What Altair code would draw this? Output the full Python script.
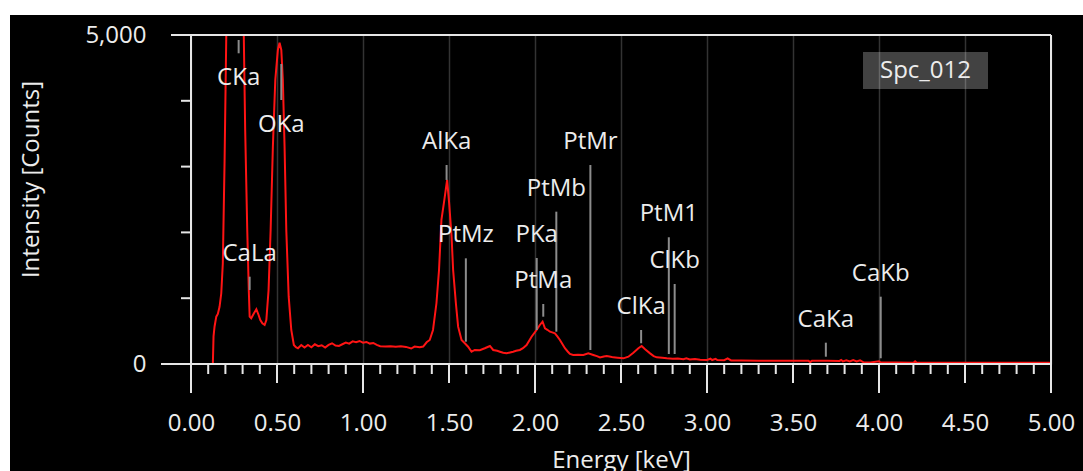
import altair as alt
import pandas as pd

# ---------------- data ----------------
energy = [
    0.00, 0.127, 0.131, 0.137, 0.147, 0.156, 0.166, 0.176, 0.185, 0.195, 0.205,
    0.220, 0.240, 0.260, 0.280, 0.295, 0.307,
    0.315, 0.327, 0.336, 0.341, 0.350, 0.366, 0.380, 0.393, 0.403, 0.415, 0.428, 0.438,
    0.451, 0.463, 0.476, 0.490, 0.505, 0.515, 0.525, 0.534, 0.544, 0.554, 0.568, 0.583,
    0.598, 0.610, 0.622, 0.641,
    0.66, 0.68, 0.70, 0.72, 0.74, 0.76, 0.78, 0.80, 0.82, 0.84, 0.86, 0.88, 0.90, 0.92,
    0.94, 0.96, 0.98, 1.00, 1.02, 1.04, 1.06, 1.08, 1.10, 1.13, 1.16, 1.19, 1.22, 1.25,
    1.28, 1.30, 1.33, 1.35, 1.37,
    1.388, 1.407, 1.427, 1.442, 1.456, 1.470, 1.481, 1.489, 1.501, 1.515, 1.524, 1.540,
    1.553, 1.573, 1.592, 1.611, 1.631, 1.650, 1.679, 1.708, 1.738, 1.757, 1.780, 1.796,
    1.815, 1.835, 1.855, 1.873, 1.890, 1.912, 1.930, 1.951, 1.980,
    2.009, 2.028, 2.044, 2.058, 2.072, 2.087, 2.100, 2.116, 2.130, 2.145, 2.160, 2.174,
    2.190, 2.203, 2.222, 2.250, 2.281, 2.310, 2.339, 2.360, 2.378, 2.400, 2.417, 2.440,
    2.455, 2.480, 2.514,
    2.543, 2.572, 2.601, 2.620, 2.640, 2.669, 2.690, 2.708, 2.740, 2.766, 2.800, 2.830,
    2.863, 2.880, 2.900, 2.930, 2.960, 3.000, 3.020, 3.030, 3.050, 3.060, 3.100, 3.120,
    3.140, 3.200, 3.300, 3.400, 3.500, 3.590, 3.600, 3.610, 3.700, 3.770, 3.780, 3.790,
    3.810, 3.830, 3.850, 3.870, 3.890, 3.910, 3.950, 4.000, 4.010, 4.100, 4.200, 4.210,
    4.220, 4.400, 4.600, 4.800, 4.990, 5.000,
]
counts = [
    0, 0, 420, 570, 720, 760, 870, 1075, 1530, 3050, 4975,
    7800, 9400, 9800, 8900, 6800, 4975,
    3556, 2037, 1125, 719, 695, 771, 831, 745, 669, 619, 593, 669,
    1125, 2037, 3303, 4316, 4772, 4883, 4772, 4316, 3303, 2037, 1023, 517,
    289, 255, 239, 289,
    250, 290, 255, 300, 270, 285, 250, 290, 315, 280, 275, 300, 325, 310,
    345, 330, 350, 325, 335, 310, 320, 290, 270, 265, 270, 262, 268, 260,
    235, 265, 255, 265, 330,
    365, 517, 923, 1429, 2189, 2442, 2645, 2797, 2442, 1935, 1429, 923,
    567, 365, 315, 263, 187, 213, 210, 239, 274, 213, 200, 187,
    170, 162, 175, 187, 200, 213, 240, 289, 415,
    517, 593, 643, 542, 520, 491, 480, 466, 420, 365, 300, 239,
    190, 152, 137, 140, 137, 162, 137, 120, 101, 115, 122, 110,
    101, 95, 86,
    111, 172, 239, 274, 223, 162, 120, 101, 95, 86, 80, 82,
    71, 85, 70, 75, 65, 61, 80, 60, 78, 60, 58, 85,
    55, 52, 50, 50, 48, 48, 30, 48, 48, 46, 60, 40,
    58, 40, 60, 38, 55, 25, 22, 40, 22, 22, 20, 40,
    20, 18, 18, 18, 18, 0,
]
assert len(energy) == len(counts)

peak_names = ["CKa", "OKa", "CaLa", "AlKa", "PtMz", "PKa", "PtMa", "PtMb", "PtMr",
              "ClKa", "PtM1", "ClKb", "CaKa", "CaKb"]
peak_energy = [0.277, 0.525, 0.341, 1.486, 1.598, 2.010, 2.048, 2.124, 2.322,
               2.617, 2.778, 2.812, 3.691, 4.010]
peak_top = [4924, 4559, 1327, 3024, 1606, 1611, 912, 2315, 3024, 517, 1926, 1216, 324, 1023]
peak_bottom = [4722, 4012, 1125, 2797, 339, 517, 719, 491, 213, 315, 152, 152, 111, 87]
peak_side = ["below", "below"] + ["above"] * 12

x_label_values = [0, 0.5, 1, 1.5, 2, 2.5, 3, 3.5, 4, 4.5, 5]
y_label_values = [0, 5000]
x_minor_ticks = [i / 10 for i in range(51) if i % 5]
x_half_ticks = [0.5, 1.5, 2.5, 3.5, 4.5]
x_int_ticks = [1, 2, 3, 4]
x_edges = [0, 5]
y_minor_ticks = [1000, 2000, 3000, 4000]
series_name = "Spc_012"

# ---------------- styling ----------------
FONT = "Open Sans"
TXT = "#ececec"
AX = "#e6e6e6"
W, H = 860, 329

xs = alt.Scale(domain=[0, 5], nice=False, zero=False)
ys = alt.Scale(domain=[0, 5000], nice=False, zero=False)

x_axis = alt.Axis(
    values=x_label_values, format=".2f", grid=True, gridColor="#333333", gridWidth=1.5,
    ticks=False, tickSize=0, domain=False, labelPadding=47, labelFont=FONT,
    labelFontSize=24, labelColor=TXT, labelFlush=False, labelOverlap=False,
    labelBaseline="top",
    title="Energy [keV]", titleFont=FONT, titleFontSize=24, titleFontWeight="normal",
    titleColor=TXT, titleY=103, titleBaseline="alphabetic", zindex=0)
y_axis = alt.Axis(
    values=y_label_values, format=",d", grid=False, ticks=False, tickSize=0,
    domain=False, labelPadding=45, labelFont=FONT, labelFontSize=24, labelColor=TXT,
    labelFlush=False, labelOverlap=False,
    title="Intensity [Counts]", titleFont=FONT, titleFontSize=24,
    titleFontWeight="normal", titleColor=TXT, titleX=-153, titleY=144,
    titleAlign="center", titleBaseline="alphabetic", titleAngle=270, zindex=0)


def X(field):
    return alt.X(field, scale=xs, axis=x_axis)


def Y(field):
    return alt.Y(field, scale=ys, axis=y_axis)


spec_df = pd.DataFrame({"E": energy, "C": counts})
peaks_df = pd.DataFrame({"name": peak_names, "E": peak_energy, "top": peak_top,
                         "bottom": peak_bottom, "side": peak_side})
one = pd.DataFrame({"a": [0]})

strip_top = alt.Chart(one).mark_rect(color="white").encode(
    x=alt.value(-191), x2=alt.value(892), y=alt.value(-35), y2=alt.value(-20))
strip_left = alt.Chart(one).mark_rect(color="white").encode(
    x=alt.value(-191), x2=alt.value(-181), y=alt.value(-35), y2=alt.value(436))


def xrule(vals, y0, y1):
    return alt.Chart(pd.DataFrame({"E": vals})).mark_rule(color=AX, strokeWidth=2).encode(
        x=X("E:Q"), y=alt.value(y0), y2=alt.value(y1))


def yrule(vals, x0, x1):
    return alt.Chart(pd.DataFrame({"C": vals})).mark_rule(color=AX, strokeWidth=2).encode(
        y=Y("C:Q"), x=alt.value(x0), x2=alt.value(x1))


ticks = [
    xrule(x_minor_ticks, H, H + 10),
    xrule(x_half_ticks, H, H + 19),
    xrule(x_int_ticks, H, H + 29),
    xrule(x_edges, 0, H + 29),
    yrule(y_minor_ticks, -10, 0),
    yrule([0], -30, W),
    yrule([5000], -20, W),
]

markers = alt.Chart(peaks_df).mark_rule(color="#8c8c8c", strokeWidth=2).encode(
    x=X("E:Q"), y=Y("top:Q"), y2="bottom:Q")

spectrum = alt.Chart(spec_df).mark_line(color="#ff1414", strokeWidth=2, clip=True).encode(
    x=X("E:Q"), y=Y("C:Q"))

labels_above = alt.Chart(peaks_df).transform_filter("datum.side == 'above'").mark_text(
    font=FONT, fontSize=24, color=TXT, baseline="middle", align="center", dy=-23).encode(
    x=X("E:Q"), y=Y("top:Q"), text="name:N")
labels_below = alt.Chart(peaks_df).transform_filter("datum.side == 'below'").mark_text(
    font=FONT, fontSize=24, color=TXT, baseline="middle", align="center", dy=25).encode(
    x=X("E:Q"), y=Y("bottom:Q"), text="name:N")

legend_box = alt.Chart(one).mark_rect(color="white", opacity=0.26).encode(
    x=alt.value(672), x2=alt.value(797), y=alt.value(17), y2=alt.value(54))
legend_text = alt.Chart(one).mark_text(
    text=series_name, font=FONT, fontSize=24, color=TXT, align="center", baseline="middle").encode(
    x=alt.value(734.5), y=alt.value(36))

chart = alt.layer(
    spectrum, strip_top, strip_left, *ticks, markers, labels_above, labels_below,
    legend_box, legend_text,
).properties(
    width=W, height=H,
    autosize=alt.AutoSizeParams(type="none"),
    padding={"left": 191, "top": 35, "right": 32, "bottom": 107},
    background="black",
).configure_view(strokeWidth=0)

chart.save("out.html", embed_options={"renderer": "svg", "actions": False})
